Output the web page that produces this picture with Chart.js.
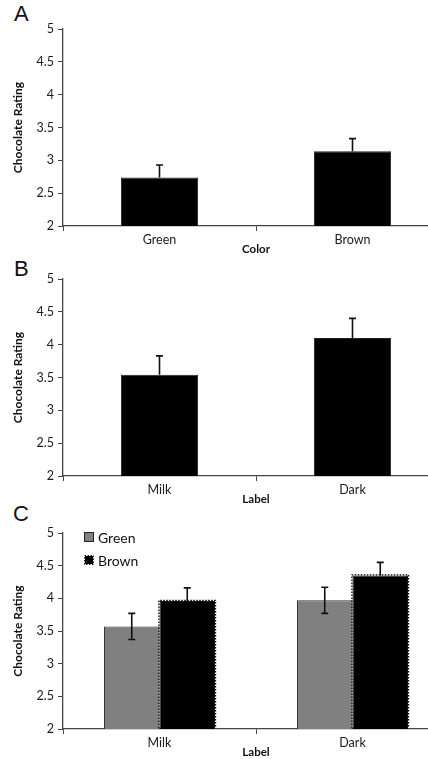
<!DOCTYPE html>
<html>
<head>
<meta charset="utf-8">
<script src="https://cdn.jsdelivr.net/npm/chart.js@4.4.1/dist/chart.umd.min.js"></script>
<style>
  html, body { margin: 0; padding: 0; background: #fff; width: 428px; height: 759px; overflow: hidden; }
  canvas { position: absolute; left: 0; }
  .letter { position: absolute; font-family: "Liberation Sans", Arial, sans-serif; font-size: 22px; line-height: 1; color: #111; }
</style>
</head>
<body>
<div class="letter" style="left:14px;top:3px">A</div>
<div class="letter" style="left:14px;top:258px">B</div>
<div class="letter" style="left:13px;top:503px">C</div>
<canvas id="chartA" width="450" height="256" style="top:0"></canvas>
<canvas id="chartB" width="450" height="256" style="top:250px"></canvas>
<canvas id="chartC" width="450" height="259" style="top:500px"></canvas>
<script>
// panel A: colour of wrapper
const colorLabels = ["Green", "Brown"];
const colorMeans = [2.74, 3.14];
const colorErrors = [0.19, 0.19];

// panel B: label on wrapper
const labelLabels = ["Milk", "Dark"];
const labelMeans = [3.54, 4.10];
const labelErrors = [0.29, 0.30];

// panel C: label x colour
const greenMeans = [3.57, 3.97];
const greenErrors = [0.2, 0.2];
const brownMeans = [3.96, 4.35];
const brownErrors = [0.2, 0.2];

const yTicks = [2, 2.5, 3, 3.5, 4, 4.5, 5];

const FONT = "Lato, 'Open Sans', sans-serif";
const AXIS = "#444";

// error bars drawn from dataset.errors through the y scale
// (lower half only shows on the grey bars, it vanishes in the black ones)
const errorBars = {
  id: "errorBars",
  afterDatasetsDraw(chart) {
    const ctx = chart.ctx;
    const y = chart.scales.y;
    chart.data.datasets.forEach((ds, i) => {
      if (!ds.errors) return;
      const meta = chart.getDatasetMeta(i);
      meta.data.forEach((bar, j) => {
        const v = ds.data[j], e = ds.errors[j];
        const top = y.getPixelForValue(v + e);
        const bot = ds.showLower ? y.getPixelForValue(v - e) : bar.y;
        ctx.save();
        ctx.strokeStyle = "#111";
        ctx.lineWidth = 1.6;
        ctx.beginPath();
        ctx.moveTo(bar.x, top); ctx.lineTo(bar.x, bot);
        ctx.moveTo(bar.x - 3.5, top); ctx.lineTo(bar.x + 3.5, top);
        if (ds.showLower) { ctx.moveTo(bar.x - 3.5, bot); ctx.lineTo(bar.x + 3.5, bot); }
        ctx.stroke();
        ctx.restore();
      });
    });
  }
};

// jagged dotted outline on the brown bars
const dottedEdge = {
  id: "dottedEdge",
  afterDatasetsDraw(chart) {
    const ctx = chart.ctx;
    const bottom = chart.chartArea.bottom;
    chart.data.datasets.forEach((ds, i) => {
      if (!ds.dotted) return;
      chart.getDatasetMeta(i).data.forEach(bar => {
        const l = bar.x - bar.width / 2, r = bar.x + bar.width / 2;
        const b = Math.min(bar.base, bottom) - 1;
        ctx.save();
        ctx.strokeStyle = "#000";
        ctx.lineWidth = 1.2;
        ctx.setLineDash([1.5, 1.5]);
        ctx.beginPath();
        ctx.moveTo(l - 0.6, b);
        ctx.lineTo(l - 0.6, bar.y - 0.6);
        ctx.lineTo(r + 0.6, bar.y - 0.6);
        ctx.lineTo(r + 0.6, b);
        ctx.stroke();
        ctx.restore();
      });
    });
  }
};

// legend inside the plot, top left
const innerLegend = {
  id: "innerLegend",
  afterDraw(chart) {
    if (!chart.options.plugins.innerLegend) return;
    const ctx = chart.ctx;
    const area = chart.chartArea;
    chart.data.datasets.forEach((ds, i) => {
      const cy = area.top + 4 + i * 23;
      const bx = area.left + 22;
      ctx.save();
      ctx.fillStyle = ds.backgroundColor;
      ctx.fillRect(bx, cy - 4, 8, 8);
      ctx.strokeStyle = "#222";
      ctx.lineWidth = 1;
      if (ds.dotted) ctx.setLineDash([1.5, 1.5]);
      ctx.strokeRect(bx - 0.5, cy - 4.5, 9, 9);
      ctx.setLineDash([]);
      ctx.fillStyle = "#111";
      ctx.font = "14px " + FONT;
      ctx.textBaseline = "middle";
      ctx.fillText(ds.label, bx + 13, cy + 1);
      ctx.restore();
    });
  }
};

function makeChart(id, labels, datasets, xTitle, opts) {
  return new Chart(document.getElementById(id), {
    type: "bar",
    data: { labels, datasets },
    plugins: [errorBars, dottedEdge, innerLegend],
    options: {
      responsive: false,
      animation: false,
      layout: { padding: { top: opts.top, right: 1, left: 0, bottom: 0 } },
      plugins: {
        legend: { display: false },
        tooltip: { enabled: false },
        innerLegend: opts.legend || false
      },
      scales: {
        x: {
          grid: { drawOnChartArea: false, drawTicks: true, tickLength: 5, color: AXIS, offset: true },
          border: { display: true, color: AXIS, width: 1.3 },
          ticks: { color: "#1a1a1a", font: { family: FONT, size: 12.5 }, padding: 1 },
          title: { display: true, text: xTitle, color: "#111", font: { family: FONT, size: 11.5, weight: "bold" }, padding: { top: 0, bottom: 0 } },
          afterFit(s) { s.height = 30; }
        },
        y: {
          min: 2,
          max: 5,
          afterBuildTicks(s) { s.ticks = yTicks.map(v => ({ value: v })); },
          grid: { drawOnChartArea: false, drawTicks: true, tickLength: 5, color: AXIS },
          border: { display: true, color: AXIS, width: 1.3 },
          ticks: { color: "#1a1a1a", font: { family: FONT, size: 12.5 }, padding: 4, callback: v => String(v) },
          title: { display: true, text: "Chocolate Rating", color: "#111", font: { family: FONT, size: 12, weight: "bold" }, padding: { top: 11, bottom: 0 } },
          afterFit(s) { s.width = 63; }
        }
      }
    }
  });
}

makeChart("chartA", colorLabels, [{
  label: "Rating",
  data: colorMeans,
  errors: colorErrors,
  backgroundColor: "#000",
  borderColor: "#222",
  borderWidth: 1,
  categoryPercentage: 1,
  barPercentage: 0.4
}], "Color", { top: 29 });

makeChart("chartB", labelLabels, [{
  label: "Rating",
  data: labelMeans,
  errors: labelErrors,
  backgroundColor: "#000",
  borderColor: "#222",
  borderWidth: 1,
  categoryPercentage: 1,
  barPercentage: 0.4
}], "Label", { top: 29 });

makeChart("chartC", labelLabels, [{
  label: "Green",
  data: greenMeans,
  errors: greenErrors,
  showLower: true,
  backgroundColor: "#808080",
  borderColor: "#333",
  borderWidth: 1,
  categoryPercentage: 0.575,
  barPercentage: 1
}, {
  label: "Brown",
  data: brownMeans,
  errors: brownErrors,
  dotted: true,
  backgroundColor: "#000",
  borderColor: "#111",
  borderWidth: 1,
  categoryPercentage: 0.575,
  barPercentage: 1
}], "Label", { top: 33, legend: true });
</script>
</body>
</html>
